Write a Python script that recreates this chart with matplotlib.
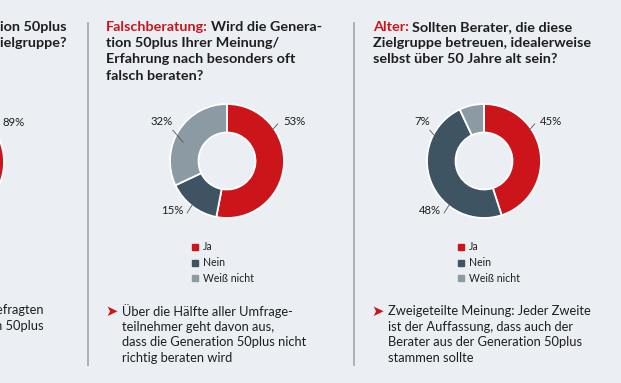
import matplotlib
matplotlib.use("Agg")
import matplotlib.pyplot as plt
from matplotlib.transforms import Affine2D
from matplotlib.patches import Rectangle
from matplotlib.lines import Line2D

# ---------------- data ----------------
categories = ["Ja", "Nein", "Weiß nicht"]
left_values = [89, 7, 4]          # only the "89%" part is visible in the cropped panel
middle_values = [53, 15, 32]
right_values = [45, 48, 7]

left_title = ["Generation 50plus", "diese Zielgruppe?"]
middle_title_red = "Falschberatung:"
middle_title = ["Wird die Genera-", "tion 50plus Ihrer Meinung/",
                "Erfahrung nach besonders oft", "falsch beraten?"]
right_title_red = "Alter:"
right_title = ["Sollten Berater, die diese", "Zielgruppe betreuen, idealerweise",
               "selbst über 50 Jahre alt sein?"]

left_note = ["der Befragten", "Generation 50plus"]
middle_note = ["Über die Hälfte aller Umfrage-", "teilnehmer geht davon aus,",
               "dass die Generation 50plus nicht", "richtig beraten wird"]
right_note = ["Zweigeteilte Meinung: Jeder Zweite", "ist der Auffassung, dass auch der",
              "Berater aus der Generation 50plus", "stammen sollte"]

# ---------------- style ----------------
W, H = 621, 383
BG = "#EBEFF3"
RED = "#CC151B"
DARK = "#3E5462"
GREY = "#8B9AA3"
COLORS = [RED, DARK, GREY]
TXT = "#1E1E1E"
FONT = "Lato"
TSIZE = 10.4

plt.rcParams["font.family"] = [FONT, "DejaVu Sans"]

fig = plt.figure(figsize=(W / 100, H / 100), dpi=100, facecolor=BG)
# pixel transform: x right, y down
PX = Affine2D().scale(1 / W, -1 / H).translate(0, 1) + fig.transFigure
renderer = fig.canvas.get_renderer()

R = 57  # outer radius in px


def title(x, y0, red, lines, ls=16.2, size=TSIZE):
    y = y0
    for i, ln in enumerate(lines):
        xx = x
        if i == 0 and red:
            t = fig.text(x, y, red, transform=PX, color=RED, fontsize=size,
                         fontweight="bold", va="baseline", ha="left")
            bb = t.get_window_extent(renderer)
            xx = x + bb.width + 3.0
        fig.text(xx, y, ln, transform=PX, color=TXT, fontsize=size,
                 fontweight="bold", va="baseline", ha="left")
        y += ls


def donut(cx, cy, values, show=(True, True, True)):
    s = 1.7
    ax = fig.add_axes([(cx - s * R) / W, 1 - (cy + s * R) / H, 2 * s * R / W, 2 * s * R / H])
    ax.pie(values, colors=COLORS, startangle=90, counterclock=False, radius=1,
           wedgeprops=dict(width=0.5, edgecolor="white", linewidth=1.3))
    ax.set_xlim(-s, s)
    ax.set_ylim(-s, s)
    ax.set_aspect("equal")
    ax.axis("off")
    # label placement per category (upper right, lower left, upper left)
    pos = [((0.79, 0.54), (0.89, 0.65), (0.98, 0.69), "left"),
           ((-0.61, -0.77), (-0.70, -0.91), (-0.76, -0.87), "right"),
           ((-0.77, 0.33), (-0.95, 0.54), (-0.95, 0.69), "right")]
    for v, (p0, p1, pt, ha), sh in zip(values, pos, show):
        if not sh:
            continue
        ax.plot([p0[0], p1[0]], [p0[1], p1[1]], color="#555555", lw=0.6)
        ax.text(pt[0], pt[1], f"{v}%", ha=ha, va="center", fontsize=8.2, color=TXT)
    return ax


def legend(x, y0):
    for i, (c, lab) in enumerate(zip(COLORS, categories)):
        y = y0 + i * 15.7
        fig.add_artist(Rectangle((x, y - 3), 6, 6, transform=PX, color=c))
        fig.text(x + 11, y, lab, transform=PX, fontsize=7.6, color=TXT,
                 va="center", ha="left")


def note(x_arrow, x, y0, lines, ls=15.7, size=9.3):
    fig.text(x_arrow, y0, "➤", transform=PX, color=RED, fontsize=10.5,
             family="DejaVu Sans", va="center", ha="left")
    for i, ln in enumerate(lines):
        fig.text(x, y0 + i * ls, ln, transform=PX, fontsize=size, color=TXT,
                 va="center", ha="left")


# separators
for xs in (88, 354):
    fig.add_artist(Line2D([xs, xs], [23, 365], transform=PX, color="#A3ABB1", lw=1.3))

# left (cropped) panel
for i, ln in enumerate(left_title):
    fig.text(66, 31 + i * 16.2, ln, transform=PX, color=TXT, fontsize=TSIZE,
             fontweight="bold", va="baseline", ha="right")
donut(-53, 162, left_values, show=(True, False, False))
for i, ln in enumerate(left_note):
    fig.text(44, 310 + i * 15.7, ln, transform=PX, fontsize=9.3, color=TXT,
             va="center", ha="right")

# middle panel
title(106, 31, middle_title_red, middle_title)
donut(227, 161, middle_values)
legend(192, 247)
note(105, 122, 311, middle_note)

# right panel
title(373, 31, right_title_red, right_title)
donut(484, 161, right_values)
legend(458, 247)
note(371, 388, 311, right_note)

fig.savefig("out.png", dpi=100, facecolor=BG)
